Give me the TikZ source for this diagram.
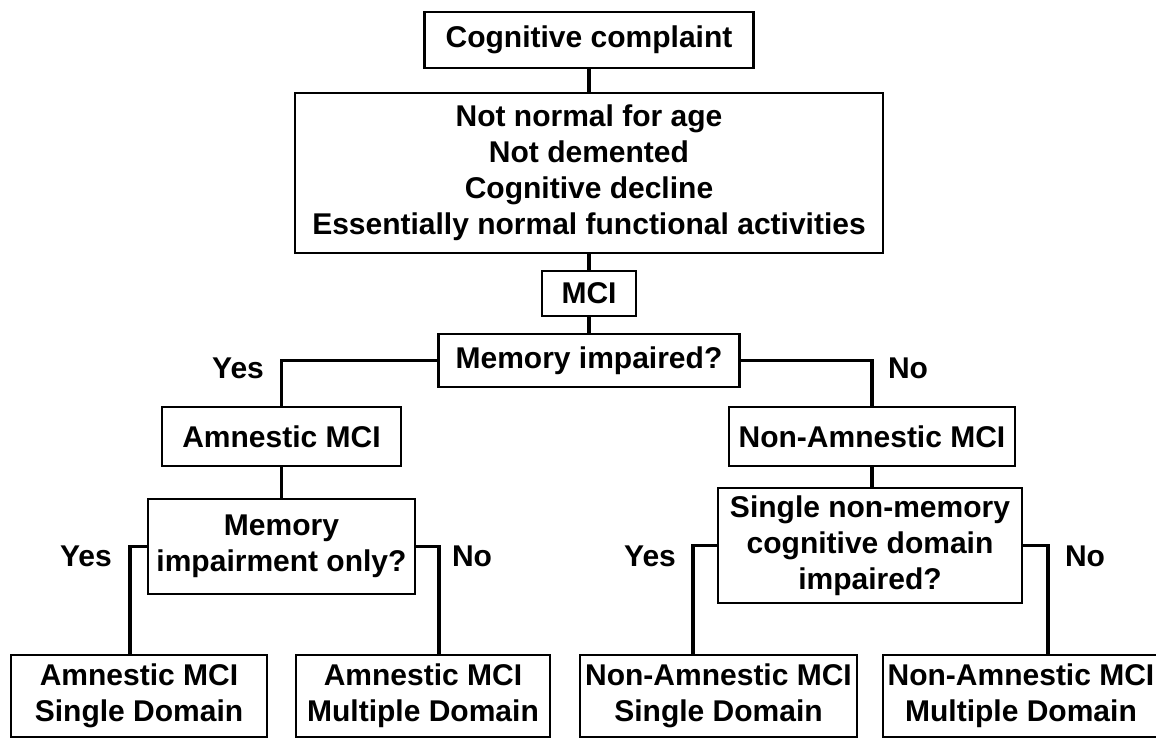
\documentclass[tikz,border=0pt]{standalone}
\usepackage{fontspec}
\setmainfont{Liberation Sans}
\usetikzlibrary{calc}
\begin{document}
\begin{tikzpicture}[x=0.75pt,y=-0.75pt,
  box/.style={draw=black,line width=2.2pt,inner sep=0pt,align=center,
    font=\bfseries\fontsize{22.5}{27}\selectfont},
  lbl/.style={inner sep=0pt,font=\bfseries\fontsize{22.5}{27}\selectfont},
  conn/.style={line width=2.5pt}]
\useasboundingbox (0,0) rectangle (1156,738);
% boxes
\node[box,minimum width=246.75pt,minimum height=42pt] (cc) at (589,40) {Cognitive complaint};
\node[box,minimum width=441pt,minimum height=120pt] (big) at (589,173)
  {Not normal for age\\Not demented\\Cognitive decline\\Essentially normal functional activities};
\node[box,minimum width=70.5pt,minimum height=33.75pt] (mci) at (589,293.5) {MCI};
\node[box,minimum width=225.75pt,minimum height=39.75pt] (memimp) at (589,360.5) {Memory impaired?};
\node[box,minimum width=179.25pt,minimum height=44.25pt] (amn) at (281.5,436.5) {Amnestic MCI};
\node[box,minimum width=214.5pt,minimum height=44.25pt] (namn) at (872,436.5) {Non-Amnestic MCI};
\node[box,minimum width=200.25pt,minimum height=71.25pt] (memonly) at (281.5,546.5) {Memory\\impairment only?};
\node[box,minimum width=228pt,minimum height=86.25pt] (single) at (870,545.5)
  {Single non-memory\\cognitive domain\\impaired?};
\node[box,minimum width=192pt,minimum height=61.5pt] (b1) at (139,696) {Amnestic MCI\\Single Domain};
\node[box,minimum width=190.5pt,minimum height=61.5pt] (b2) at (423,696) {Amnestic MCI\\Multiple Domain};
\node[box,minimum width=207.75pt,minimum height=61.5pt] (b3) at (718.5,696) {Non-Amnestic MCI\\Single Domain};
\node[box,minimum width=207pt,minimum height=61.5pt] (b4) at (1021,696) {Non-Amnestic MCI\\Multiple Domain};
% connectors
\draw[conn] (cc.south) -- (big.north);
\draw[conn] (big.south) -- (mci.north);
\draw[conn] (mci.south) -- (memimp.north);
\draw[conn] (memimp.west) -| (amn.north);
\draw[conn] (memimp.east) -| (namn.north);
\draw[conn] (amn.south) -- (memonly.north);
\draw[conn] (namn.south) -- (namn.south |- single.north);
\draw[conn] (memonly.west) -| ($(b1.north)+(-9,0)$);
\draw[conn] (memonly.east) -| ($(b2.north)+(16,0)$);
\draw[conn] (single.west) -| ($(b3.north)+(-25.5,0)$);
\draw[conn] (single.east) -| ($(b4.north)+(27,0)$);
% labels
\node[lbl] (y1) at (238,368) {Yes};
\node[lbl] (n1) at (908,368) {No};
\node[lbl] (y2) at (86,556) {Yes};
\node[lbl] (n2) at (472,556) {No};
\node[lbl] (y3) at (650,556) {Yes};
\node[lbl] (n3) at (1085,556) {No};
\end{tikzpicture}
\end{document}
